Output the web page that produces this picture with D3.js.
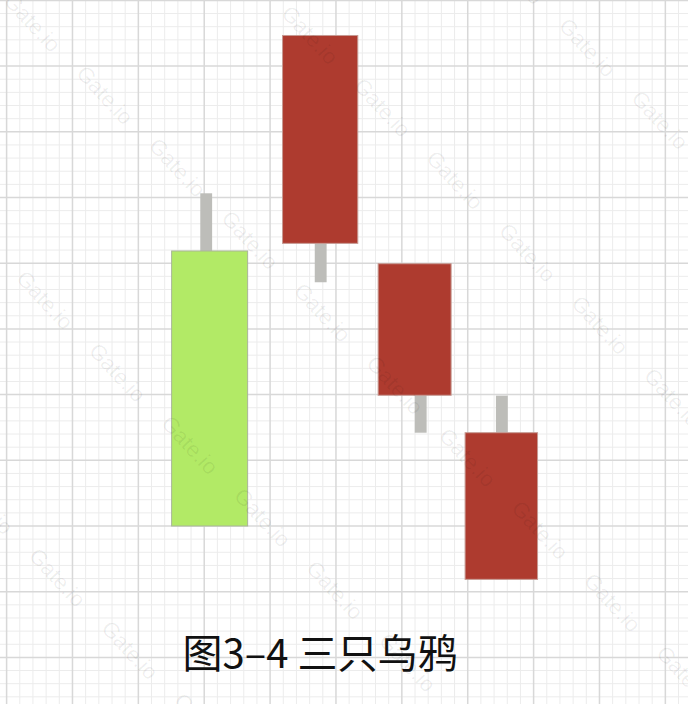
<!DOCTYPE html>
<html>
<head>
<meta charset="utf-8">
<script src="https://cdn.jsdelivr.net/npm/d3@7.9.0/dist/d3.min.js"></script>
<style>
  html, body { margin: 0; padding: 0; background: #fff; }
  svg { display: block; }
</style>
</head>
<body>
<div id="chart"></div>
<script>
// candles, in grid units (one unit = one small square)
const days   = ['D1', 'D2', 'D3', 'D4'];
const slot   = [15.41, 23.8, 30.97, 37.55];   // time position of each candle
const opens  = [10, 47.33, 29.96, 17.1];
const closes = [30.93, 31.51, 19.95, 5.94];
const highs  = [35.32, 47.33, 29.96, 19.92];
const lows   = [10, 28.55, 17.1, 5.94];
const title  = '图3–4 三只乌鸦';

const width = 688;
const height = 704;

// layout / styling
const bodyWidth = [5.77, 5.71, 5.54, 5.5];
const wickShift = [-0.26, 0.04, 0.46, 0.04];
const wickWidth = 0.9;
const upColor = '#b2ea66';
const downColor = '#ae3b2f';

const candles = days.map((d, i) => ({
  day: d, t: slot[i], open: opens[i], close: closes[i], high: highs[i], low: lows[i],
  w: bodyWidth[i], shift: wickShift[i]
}));

const cell = 13.175;
const xScale = d3.scaleLinear().domain([0, 1]).range([6.6, 6.6 + cell]);
const yScale = d3.scaleLinear().domain([0, 1]).range([657.4, 657.4 - 13.14]);

const svg = d3.select('#chart').append('svg')
  .attr('width', width)
  .attr('height', height);

svg.append('rect').attr('width', width).attr('height', height).attr('fill', '#fff');

// grid paper
const grid = svg.append('g').attr('class', 'grid');
const xs = d3.range(-1, 53);
const ys = d3.range(-4, 51);
grid.selectAll('line.v')
  .data(xs)
  .join('line')
  .attr('class', 'v')
  .attr('x1', (d) => xScale(d)).attr('x2', (d) => xScale(d))
  .attr('y1', 0).attr('y2', height)
  .attr('stroke', (d) => (d % 5 === 0 ? '#d8d8d8' : '#ececec'))
  .attr('stroke-width', (d) => (d % 5 === 0 ? 1.5 : 1));
grid.selectAll('line.h')
  .data(ys)
  .join('line')
  .attr('class', 'h')
  .attr('y1', (d) => yScale(d)).attr('y2', (d) => yScale(d))
  .attr('x1', 0).attr('x2', width)
  .attr('stroke', (d) => (d % 5 === 0 ? '#d8d8d8' : '#ececec'))
  .attr('stroke-width', (d) => (d % 5 === 0 ? 1.5 : 1));
// major lines on top of minor ones
grid.selectAll('line')
  .filter((d) => d % 5 === 0)
  .raise();

// candles
const g = svg.append('g').attr('class', 'candles');

g.selectAll('rect.wick')
  .data(candles)
  .join('rect')
  .attr('class', 'wick')
  .attr('x', (d) => xScale(d.t + d.shift - wickWidth / 2))
  .attr('width', xScale(wickWidth) - xScale(0))
  .attr('y', (d) => yScale(d.high))
  .attr('height', (d) => yScale(d.low) - yScale(d.high))
  .attr('fill', '#bdbdb9');

g.selectAll('rect.body')
  .data(candles)
  .join('rect')
  .attr('class', 'body')
  .attr('x', (d) => xScale(d.t - d.w / 2))
  .attr('width', (d) => xScale(d.w) - xScale(0))
  .attr('y', (d) => yScale(Math.max(d.open, d.close)))
  .attr('height', (d) => Math.abs(yScale(d.open) - yScale(d.close)))
  .attr('fill', (d) => (d.close > d.open ? upColor : downColor))
  .attr('stroke', (d) => (d.close > d.open ? '#a9b59a' : '#c69a93'))
  .attr('stroke-width', 1);

// watermark
const marks = [];
for (let k = -3; k <= 3; k++) {
  for (let n = -1; n <= 11; n++) {
    const cx = (65 + 265 * k + 145 * n) / 2;
    const cy = (45 - 265 * k + 145 * n) / 2;
    if (cx > -40 && cx < width + 40 && cy > -40 && cy < height + 40) marks.push([cx, cy]);
  }
}
svg.append('g').attr('class', 'watermark')
  .selectAll('text')
  .data(marks)
  .join('text')
  .attr('transform', (d) => `translate(${d[0]},${d[1]}) rotate(47)`)
  .attr('text-anchor', 'middle')
  .attr('dy', '0.35em')
  .attr('font-family', 'Liberation Sans, Arial, sans-serif')
  .attr('font-size', 22)
  .attr('fill', '#000')
  .attr('fill-opacity', 0.065)
  .text('Gate.io');

// caption
svg.append('text')
  .attr('x', 320)
  .attr('y', 668)
  .attr('text-anchor', 'middle')
  .attr('font-family', '"Noto Sans CJK SC", sans-serif')
  .attr('font-size', 40)
  .attr('fill', '#111')
  .text(title);
</script>
</body>
</html>
